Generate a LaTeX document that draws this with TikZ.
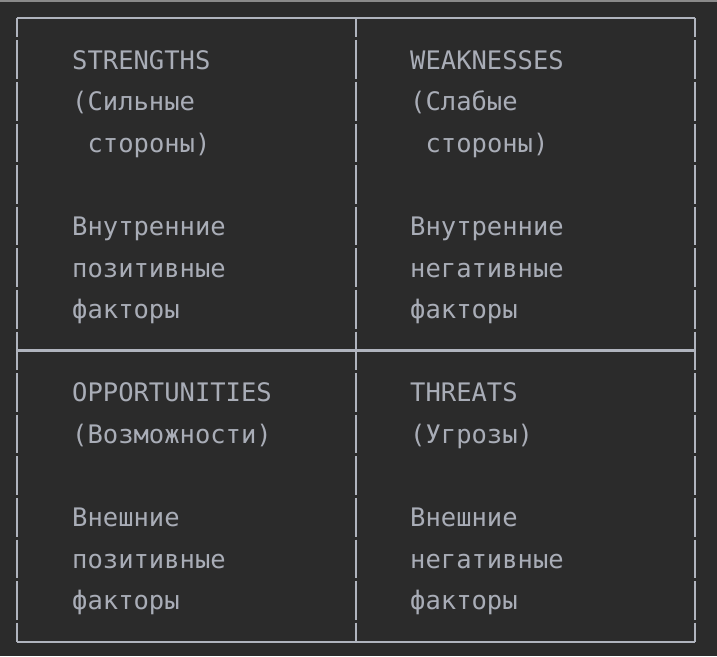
\documentclass[tikz,border=0pt]{standalone}
\usepackage{fontspec}
\newfontfamily\swotmono{DejaVu Sans Mono}
\definecolor{bgc}{HTML}{2B2B2B}
\definecolor{linec}{HTML}{B0B4BE}
\definecolor{txtc}{HTML}{A9ADB7}
\definecolor{topc}{HTML}{8A8A8A}
\tikzset{
  grid line/.style={draw=linec, line width=2.8pt},
  vgrid line/.style={grid line, dash pattern=on 38.6pt off 3pt, dash phase=19.3pt},
  txt/.style={anchor=base west, inner sep=0pt, text=txtc, font=\swotmono\fontsize{25.5}{30}\selectfont}
}
\begin{document}
\begin{tikzpicture}[x=1pt,y=-1pt]
\fill[bgc] (0,0) rectangle (717,656);
\useasboundingbox (0,0) rectangle (717,656);
\fill[topc] (0,0) rectangle (717,1.5);
% grid coordinates
\coordinate (tl) at (17,18);
\coordinate (tm) at (356,18);
\coordinate (tr) at (695,18);
\coordinate (ml) at (17,350.8);
\coordinate (mr) at (695,350.8);
\coordinate (bl) at (17,642);
\coordinate (bm) at (356,642);
\coordinate (br) at (695,642);
\draw[grid line] (tl) -- (tr);
\draw[grid line] (ml) -- (mr);
\draw[grid line] (bl) -- (br);
\draw[vgrid line] (tl) -- (bl);
\draw[vgrid line] (tm) -- (bm);
\draw[vgrid line] (tr) -- (br);
% text rows: baseline = 18 + 41.6k + 9.5
\def\lx{72}
\def\rx{410}
\node[txt] (s1) at (\lx,69.1) {STRENGTHS};
\node[txt] (s2) at (\lx,110.7) {(Сильные};
\node[txt] (s3) at (87.4,152.3) {стороны)};
\node[txt] (s5) at (\lx,235.5) {Внутренние};
\node[txt] (s6) at (\lx,277.1) {позитивные};
\node[txt] (s7) at (\lx,318.7) {факторы};
\node[txt] (w1) at (\rx,69.1) {WEAKNESSES};
\node[txt] (w2) at (\rx,110.7) {(Слабые};
\node[txt] (w3) at (425.4,152.3) {стороны)};
\node[txt] (w5) at (\rx,235.5) {Внутренние};
\node[txt] (w6) at (\rx,277.1) {негативные};
\node[txt] (w7) at (\rx,318.7) {факторы};
\node[txt] (o1) at (\lx,401.9) {OPPORTUNITIES};
\node[txt] (o2) at (\lx,443.5) {(Возможности)};
\node[txt] (o4) at (\lx,526.7) {Внешние};
\node[txt] (o5) at (\lx,568.3) {позитивные};
\node[txt] (o6) at (\lx,609.9) {факторы};
\node[txt] (t1) at (\rx,401.9) {THREATS};
\node[txt] (t2) at (\rx,443.5) {(Угрозы)};
\node[txt] (t4) at (\rx,526.7) {Внешние};
\node[txt] (t5) at (\rx,568.3) {негативные};
\node[txt] (t6) at (\rx,609.9) {факторы};
\end{tikzpicture}
\end{document}
